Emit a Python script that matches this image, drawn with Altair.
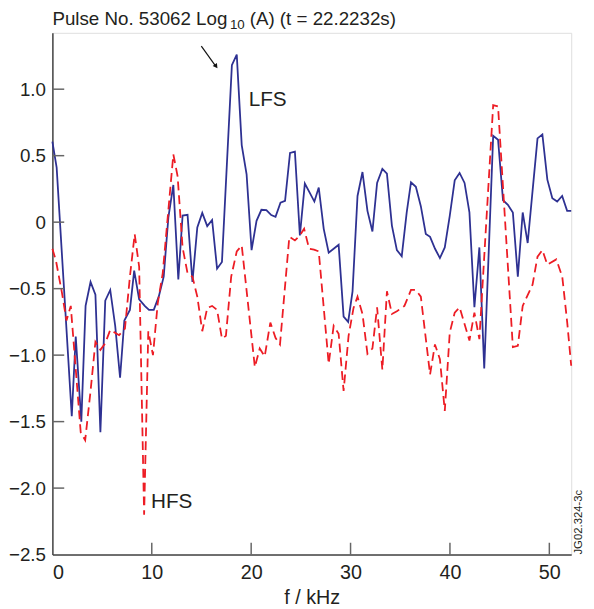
import altair as alt
import pandas as pd

# ---- data ----
lfs_f = [0, 0.43, 1.95, 2.35, 2.91, 3.34, 3.84, 4.33, 4.83, 5.32, 5.82, 6.32, 6.81, 7.24, 7.8,
         8.23, 8.73, 9.29, 9.72, 10.2, 10.7, 11.2, 11.67, 12.17, 12.67, 13.1, 13.6, 14.09, 14.58,
         15.08, 15.58, 16.07, 16.57, 17.06, 18.06, 18.55, 19.05, 19.54, 20.04, 20.54, 21.03, 21.53,
         22.02, 22.45, 22.95, 23.41, 23.91, 24.4, 24.9, 25.4, 25.9, 26.36, 26.8, 27.3, 27.8, 28.3,
         28.8, 29.3, 29.76, 30.2, 30.7, 31.2, 31.7, 32.2, 32.67, 33.2, 33.66, 34.16, 34.66, 35.15,
         35.65, 36.08, 36.57, 37.07, 37.57, 38.0, 38.5, 38.99, 39.48, 39.98, 40.48, 40.97, 41.47,
         41.96, 42.46, 42.96, 43.45, 44.35, 44.84, 45.34, 45.83, 46.33, 46.83, 47.32, 47.82, 48.31,
         48.81, 49.3, 49.8, 50.3, 50.79, 51.29, 51.79, 52.2]
lfs_v = [0.605, 0.41, -1.46, -0.86, -1.50, -0.63, -0.45, -0.545, -1.58, -0.59, -0.51, -0.78, -1.17,
         -0.74, -0.66, -0.365, -0.58, -0.63, -0.66, -0.66, -0.56, -0.41, 0.036, 0.28, -0.43, 0.05,
         0.055, -0.45, -0.04, 0.07, -0.03, 0.016, -0.35, -0.30, 1.18, 1.26, 0.58, 0.36, -0.21, 0.01,
         0.093, 0.09, 0.053, 0.04, 0.147, 0.16, 0.52, 0.53, -0.10, 0.29, 0.22, 0.155, 0.26, -0.05,
         -0.23, -0.2, -0.17, -0.71, -0.75, -0.52, 0.197, 0.377, 0.085, -0.07, 0.295, 0.40, 0.365,
         -0.026, -0.21, -0.256, 0.073, 0.30, 0.266, 0.12, -0.088, -0.11, -0.2, -0.27, -0.19, 0.048,
         0.315, 0.37, 0.295, 0.073, -0.64, -0.19, -1.10, 0.65, 0.62, 0.165, 0.13, 0.073, -0.41,
         0.073, -0.157, 0.234, 0.63, 0.66, 0.32, 0.18, 0.155, 0.197, 0.085, 0.085]

hfs_f = [0, 0.36, 0.96, 1.42, 1.85, 2.85, 3.3, 3.84, 4.33, 4.83, 5.32, 5.82, 6.71, 7.3, 7.8, 8.28,
         8.73, 9.23, 9.65, 10.12, 10.6, 11.1, 12.17, 12.6, 13.1, 13.6, 14.09, 14.58, 15.08, 15.58,
         16.07, 16.57, 17.06, 17.46, 17.99, 18.55, 19.05, 20.37, 20.86, 21.36, 21.93, 22.45, 22.9,
         23.84, 24.4, 24.9, 25.33, 25.83, 26.32, 26.8, 27.8, 28.3, 28.8, 29.3, 29.8, 30.3, 30.7,
         31.2, 31.7, 32.2, 32.67, 33.2, 33.66, 34.16, 34.66, 35.42, 36.08, 36.57, 37.07, 38.0,
         38.49, 38.99, 39.48, 39.98, 40.48, 40.97, 41.96, 42.46, 42.96, 44.35, 44.84, 46.33, 46.83,
         47.32, 48.31, 48.81, 49.3, 49.8, 50.7, 51.3, 51.8, 52.2]
hfs_v = [-0.2, -0.29, -0.53, -0.74, -0.63, -1.58, -1.64, -1.27, -0.90, -0.96, -0.91, -0.81, -0.85,
         -0.80, -0.41, -0.09, -0.335, -2.20, -0.82, -1.0, -0.61, -0.385, 0.51, 0.345, -0.19, -0.385,
         -0.41, -0.56, -0.82, -0.645, -0.63, -0.66, -0.875, -0.855, -0.41, -0.22, -0.175, -1.09,
         -0.95, -1.01, -0.755, -0.87, -0.92, -0.11, -0.137, -0.10, -0.05, -0.2, -0.206, -0.22,
         -1.065, -0.78, -0.84, -1.27, -0.855, -0.645, -0.56, -0.69, -0.99, -0.95, -0.64, -1.11,
         -0.52, -0.69, -0.67, -0.63, -0.51, -0.51, -0.56, -1.146, -0.92, -1.03, -1.42, -0.83, -0.68,
         -0.64, -0.89, -0.68, -0.88, 0.88, 0.87, -0.94, -0.93, -0.63, -0.47, -0.26, -0.21, -0.32,
         -0.28, -0.41, -0.755, -1.08]

x_ticks = [0, 10, 20, 30, 40, 50]
y_ticks = [-2.5, -2.0, -1.5, -1.0, -0.5, 0.0, 0.5, 1.0]
title_parts = ["Pulse No. 53062 Log", "10", "(A) (t = 22.2232s)"]
annotations = ["LFS", "HFS"]
figure_code = "JG02.324-3c"

W, H = 526, 529
FONT = "Liberation Sans"
TXT = "#231f20"
xscale = alt.Scale(domain=[0, 52.2], nice=False, zero=False)
yscale = alt.Scale(domain=[-2.5, 1.424], nice=False, zero=False)

lfs = pd.DataFrame({"f": lfs_f, "v": lfs_v})
hfs = pd.DataFrame({"f": hfs_f, "v": hfs_v})

xaxis = alt.Axis(values=x_ticks, title="f / kHz", tickSize=0, labelPadding=8,
                 labelFontSize=20, titleFontSize=20, titlePadding=6, grid=False,
                 labelColor=TXT, titleColor=TXT, titleFontWeight="normal",
                 domainColor="#444", domainWidth=1.5, labelFont=FONT, titleFont=FONT)
yaxis = alt.Axis(values=y_ticks, title=None, tickSize=0, labelPadding=7,
                 labelFontSize=19, grid=False, labelColor=TXT,
                 domainColor="#444", domainWidth=1.5, labelFont=FONT,
                 labelExpr="datum.value == 0 ? '0' : (datum.value < 0 ? '\u2212' + format(-datum.value, '.1f') : format(datum.value, '.1f'))")

X = alt.X("f:Q", scale=xscale, axis=xaxis, title="f / kHz")
Y = alt.Y("v:Q", scale=yscale, axis=yaxis, title=None)

blue = alt.Chart(lfs).mark_line(color="#2e3192", strokeWidth=1.8).encode(x=X, y=Y, order="f:Q")
red = alt.Chart(hfs).mark_line(color="#ed1c24", strokeWidth=1.8, strokeDash=[9, 5]).encode(
    x=X, y=Y, order="f:Q")

ytick_df = pd.DataFrame({"v": y_ticks[1:]})
xtick_df = pd.DataFrame({"f": x_ticks[1:]})
yt = alt.Chart(ytick_df).mark_rule(color="#666", strokeWidth=1.5).encode(
    y=Y, x=alt.value(0), x2=alt.value(12))
xt = alt.Chart(xtick_df).mark_rule(color="#666", strokeWidth=1.5).encode(
    x=X, y=alt.value(H), y2=alt.value(H - 12))


def txt(s, x, y, size=20, **kw):
    return alt.Chart(pd.DataFrame({"t": [s]})).mark_text(
        font=FONT, fontSize=size, color=TXT, baseline="alphabetic", clip=False, **kw
    ).encode(text="t:N", x=alt.value(x), y=alt.value(y))


t1 = txt(title_parts[0], 0, -8, size=19, align="left")
t2 = txt(title_parts[1], 180, -3.5, size=13.5, align="left")
t3 = txt(title_parts[2], 200, -8, size=19, align="left")
lf = txt(annotations[0], 199, 74, size=21, align="left")
hf = txt(annotations[1], 100, 482, size=21, align="left")
code = alt.Chart(pd.DataFrame({"t": [figure_code]})).mark_text(
    font=FONT, fontSize=11.5, color=TXT, baseline="middle", align="left", angle=270, clip=False
).encode(text="t:N", x=alt.value(534), y=alt.value(H))

arrow_line = alt.Chart(pd.DataFrame({"a": [0]})).mark_rule(color="#111", strokeWidth=1.2).encode(
    x=alt.value(151), y=alt.value(13.5), x2=alt.value(165), y2=alt.value(33))
arrow_head = alt.Chart(pd.DataFrame({"a": [0]})).mark_point(
    shape="triangle-down", filled=True, color="#111", size=28, angle=324, opacity=1
).encode(x=alt.value(166), y=alt.value(34))

chart = alt.layer(blue, red, yt, xt, t1, t2, t3, lf, hf, code, arrow_line, arrow_head).properties(
    width=W, height=H,
    autosize=alt.AutoSizeParams(type="none"),
    padding={"left": 45, "top": 21, "right": 15, "bottom": 50},
).configure_view(stroke="#444", strokeWidth=1.5).configure(background="white")

chart.save("out.html", embed_options={"renderer": "svg", "actions": False})
